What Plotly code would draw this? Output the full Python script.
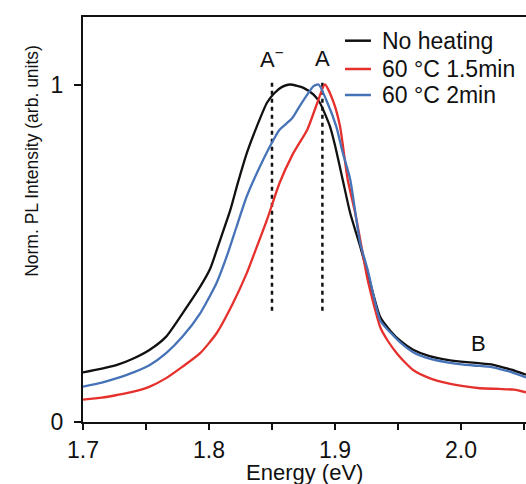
import plotly.graph_objects as go

# ---- data ----
black_x = [1.700, 1.715, 1.727, 1.740, 1.753, 1.766, 1.779, 1.793, 1.801, 1.808, 1.817, 1.823, 1.830,
           1.838, 1.846, 1.852, 1.858, 1.864, 1.870, 1.875, 1.883, 1.888, 1.896, 1.900, 1.906, 1.912,
           1.920, 1.926, 1.936, 1.944, 1.952, 1.962, 1.975, 1.989, 2.002, 2.015, 2.025, 2.031, 2.040, 2.0516]
black_y = [0.147, 0.158, 0.169, 0.188, 0.214, 0.253, 0.322, 0.401, 0.455, 0.530, 0.629, 0.710, 0.797,
           0.876, 0.946, 0.975, 0.993, 1.000, 0.996, 0.990, 0.970, 0.946, 0.876, 0.820, 0.720, 0.620,
           0.520, 0.440, 0.310, 0.270, 0.240, 0.214, 0.195, 0.184, 0.178, 0.174, 0.170, 0.164, 0.155, 0.140]

red_x = [1.700, 1.715, 1.727, 1.740, 1.753, 1.766, 1.779, 1.793, 1.806, 1.819, 1.830, 1.835, 1.846,
         1.856, 1.866, 1.870, 1.878, 1.886, 1.892, 1.899, 1.904, 1.910, 1.916, 1.921, 1.926, 1.936,
         1.942, 1.949, 1.956, 1.962, 1.975, 1.989, 2.002, 2.015, 2.030, 2.042, 2.0516]
red_y = [0.066, 0.072, 0.080, 0.090, 0.105, 0.130, 0.164, 0.204, 0.263, 0.352, 0.441, 0.490, 0.599,
         0.708, 0.790, 0.816, 0.866, 0.946, 1.000, 0.946, 0.876, 0.720, 0.620, 0.520, 0.420, 0.280,
         0.240, 0.204, 0.175, 0.154, 0.130, 0.115, 0.106, 0.100, 0.098, 0.096, 0.088]

blue_x = [1.700, 1.715, 1.727, 1.740, 1.753, 1.766, 1.779, 1.793, 1.806, 1.814, 1.822, 1.830, 1.843,
          1.851, 1.856, 1.866, 1.872, 1.878, 1.883, 1.887, 1.893, 1.901, 1.906, 1.912, 1.920, 1.926,
          1.936, 1.944, 1.952, 1.962, 1.975, 1.989, 2.002, 2.015, 2.025, 2.031, 2.040, 2.0516]
blue_y = [0.105, 0.117, 0.130, 0.147, 0.169, 0.204, 0.253, 0.322, 0.412, 0.490, 0.580, 0.669, 0.777,
          0.835, 0.866, 0.900, 0.936, 0.970, 0.995, 1.000, 0.955, 0.876, 0.800, 0.720, 0.530, 0.450,
          0.300, 0.265, 0.235, 0.207, 0.188, 0.177, 0.170, 0.166, 0.162, 0.157, 0.148, 0.132]

series_names = ["No heating", "60 °C 1.5min", "60 °C 2min"]
series_colors = ["#111111", "#e5302c", "#4673b7"]

peak_positions = [1.85, 1.89]
peak_labels = ["A<sup>−</sup>", "A"]
peak_line_range = [0.33, 1.01]
b_label_pos = (2.0135, 0.234)

x_ticks = [1.7, 1.8, 1.9, 2.0]
x_ticklabels = ["1.7", "1.8", "1.9", "2.0"]
y_ticks = [0, 1]
y_ticklabels = ["0", "1"]

FONT = "Liberation Sans, Arial, sans-serif"
INK = "#111111"

fig = go.Figure()
# dotted guide lines
for xp in peak_positions:
    fig.add_trace(go.Scatter(x=[xp, xp], y=peak_line_range, mode="lines",
                             line=dict(color=INK, width=2.5, dash="4px,4px"),
                             showlegend=False, hoverinfo="skip"))

series = [(black_x, black_y), (red_x, red_y), (blue_x, blue_y)]
for (xs, ys), nm, col in zip(series, series_names, series_colors):
    fig.add_trace(go.Scatter(x=xs, y=ys, mode="lines", name=nm, showlegend=False,
                             line=dict(color=col, width=2.3, shape="spline", smoothing=0.6)))

# legend drawn as keys + labels (compact row spacing like the reference)
legend_rows_y = [0.9415, 0.8716, 0.8074]
for nm, col, ry in zip(series_names, series_colors, legend_rows_y):
    fig.add_shape(type="line", xref="paper", yref="paper", x0=0.5914, x1=0.650, y0=ry, y1=ry,
                  line=dict(color=col, width=2.5))
    fig.add_annotation(x=0.6704, y=ry, xref="paper", yref="paper", text=nm, showarrow=False,
                       xanchor="left", yanchor="middle",
                       font=dict(size=23, color=INK, family=FONT))

for xp, lab in zip(peak_positions, peak_labels):
    fig.add_annotation(x=xp, y=1.078, xref="x", yref="y", text=lab, showarrow=False,
                       font=dict(size=22, color=INK, family=FONT))
fig.add_annotation(x=b_label_pos[0], y=b_label_pos[1], xref="x", yref="y", text="B",
                   showarrow=False, font=dict(size=22, color=INK, family=FONT))

# axis titles as annotations (positions as in reference)
fig.add_annotation(x=-0.142, y=0.645, xref="paper", yref="paper",
                   text="Norm. PL Intensity (arb. units)", textangle=-90, showarrow=False,
                   font=dict(size=17.5, color=INK, family=FONT))
fig.add_annotation(x=0.5, y=-0.125, xref="paper", yref="paper", yanchor="middle",
                   text="Energy (eV)", showarrow=False, borderpad=0,
                   font=dict(size=22, color=INK, family=FONT))

fig.update_layout(
    width=526, height=484,
    margin=dict(l=83, r=0, t=17, b=62, autoexpand=False),
    paper_bgcolor="white", plot_bgcolor="white",
    font=dict(family=FONT, size=22, color=INK),
    showlegend=False,
    xaxis=dict(range=[1.7, 2.0516], tickvals=x_ticks, ticktext=x_ticklabels,
               showline=True, linecolor=INK, linewidth=2, mirror=True,
               ticks="outside", ticklen=6, tickwidth=2, tickcolor=INK,
               minor=dict(dtick=0.05, tick0=1.7, ticks="outside", ticklen=6, tickwidth=2, tickcolor=INK),
               showgrid=False, zeroline=False, automargin=False,
               tickfont=dict(size=23)),
    yaxis=dict(range=[0, 1.2], tickvals=y_ticks, ticktext=y_ticklabels,
               showline=True, linecolor=INK, linewidth=2,
               ticks="outside", ticklen=7, tickwidth=2, tickcolor=INK,
               showgrid=False, zeroline=False, tickfont=dict(size=23), automargin=False,
               ticklabelstandoff=6),
)

fig.write_html("out.html", config={"displayModeBar": False},
               post_script="document.body.style.margin='0';document.body.style.overflow='hidden';")
